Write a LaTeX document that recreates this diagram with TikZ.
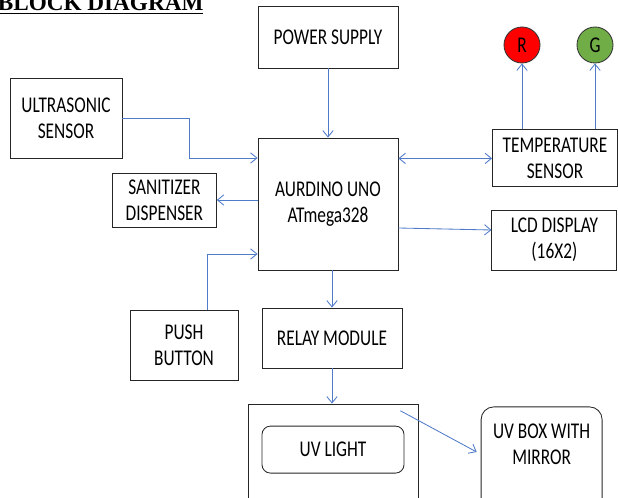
\documentclass[tikz,border=0pt]{standalone}
\usepackage{fontspec}
\setmainfont{Carlito}
\newfontfamily\boxfont[FakeStretch=0.77]{Carlito}
\newfontfamily\titlefont{Liberation Serif}
\usepackage{tikz}
\usetikzlibrary{arrows.meta, positioning, calc}
\definecolor{linkblue}{RGB}{79,123,200}
\definecolor{ledred}{RGB}{255,0,0}
\definecolor{ledgreen}{RGB}{112,173,71}

\begin{document}
\begin{tikzpicture}[
  blk/.style={rectangle, draw=black!85, line width=0.6pt, align=center, font=\boxfont\fontsize{16}{18.5}\selectfont},
  rblk/.style={blk, rounded corners=6pt},
  led/.style={circle, draw=black!80, line width=0.6pt, minimum size=0.9cm, inner sep=0pt, font=\boxfont\fontsize{16}{18}\selectfont},
  arr/.style={-{Straight Barb[length=1.6mm,width=2.6mm]}, line width=0.6pt, linkblue},
  darr/.style={{Straight Barb[length=1.6mm,width=2.6mm]}-{Straight Barb[length=1.6mm,width=2.6mm]}, line width=0.6pt, linkblue}
]
\useasboundingbox (0,0) rectangle (15.45,-12.45);
\clip (0,0) rectangle (15.45,-12.45);

% ---- Title ----
\node[anchor=base west, inner sep=0pt, font=\titlefont\bfseries\fontsize{16.5}{18}\selectfont] (title) at (-0.06,-0.27) {\underline{BLOCK DIAGRAM}};

% ---- Controller and supply ----
\node[blk, minimum width=3.5cm, minimum height=1.55cm] (supply) at (8.2,-0.925) {POWER SUPPLY};
\node[blk, minimum width=3.5cm, minimum height=3.3cm] (mcu) at (8.2,-5.1) {AURDINO UNO\\ATmega328};

% ---- Left side ----
\node[blk, minimum width=2.8cm, minimum height=2cm] (sonic) at (1.65,-2.95) {ULTRASONIC\\SENSOR};
\node[blk, minimum width=2.6cm, minimum height=1.35cm] (sanitizer) at (4.11,-5.0) {SANITIZER\\DISPENSER};
\node[blk, minimum width=2.7cm, minimum height=1.75cm] (button) at (4.6,-8.625) {PUSH\\BUTTON};

% ---- Right side ----
\node[blk, minimum width=3.125cm, minimum height=1.425cm] (temp) at (13.875,-3.96) {TEMPERATURE\\SENSOR};
\node[blk, minimum width=3.125cm, minimum height=1.5cm] (lcd) at (13.86,-6.0) {LCD DISPLAY\\(16X2)};
\node[led, fill=ledred] (ledr) at (13.05,-1.125) {R};
\node[led, fill=ledgreen] (ledg) at (14.875,-1.125) {G};

% ---- Output stage ----
\node[blk, minimum width=3.5cm, minimum height=1.5cm] (relay) at (8.3,-8.45) {RELAY MODULE};
\node[blk, minimum width=4.25cm, minimum height=2.9cm] (uvbay) at (8.325,-11.55) {};
\node[rblk, minimum width=3.55cm, minimum height=1.175cm] (uvlight) at (8.325,-11.24) {UV LIGHT};
\node[rblk, rounded corners=9pt, minimum width=3.025cm, minimum height=3.075cm,
      label={[anchor=north, yshift=-0.3cm, align=center, font=\boxfont\fontsize{16}{18.5}\selectfont]north:UV BOX WITH\\MIRROR}] (mirror) at (13.54,-11.71) {};

% ---- Connections ----
\draw[arr] (supply) -- (mcu);
\draw[arr] (sonic.east) -- ++(1.675,0) |- ([yshift=1.15cm]mcu.west);
\draw[arr] (mcu.west |- sanitizer.east) -- (sanitizer.east);
\draw[arr] ([xshift=0.575cm]button.north) |- ([yshift=-1.25cm]mcu.west);
\draw[darr] (mcu.east |- temp.west) -- (temp.west);
\draw[arr] ([yshift=-0.6cm]mcu.east) -- ([yshift=0.25cm]lcd.west);
\draw[arr] (ledr.south |- temp.north) -- (ledr.south);
\draw[arr] (ledg.south |- temp.north) -- (ledg.south);
\draw[arr] (mcu.south -| relay.north) -- (relay.north);
\draw[arr] (relay.south) -- (relay.south |- uvbay.north);
\draw[arr] ([xshift=-0.45cm,yshift=-0.18cm]uvbay.north east) -- ([xshift=-0.1cm,yshift=0.41cm]mirror.west);

\end{tikzpicture}
\end{document}
